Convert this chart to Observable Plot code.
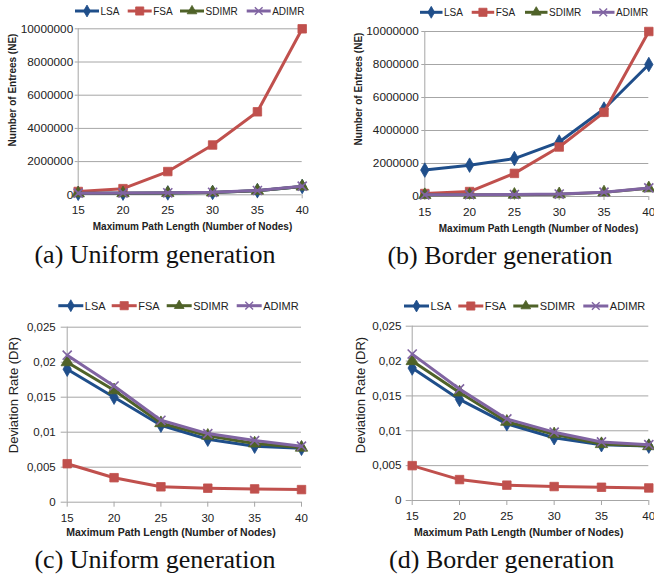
<!DOCTYPE html>
<html><head><meta charset="utf-8">
<script src="https://cdn.jsdelivr.net/npm/d3@7"></script>
<script src="https://cdn.jsdelivr.net/npm/@observablehq/plot@0.6"></script>
<style>
body{margin:0;background:#fff;}
#wrap{position:relative;width:654px;height:576px;overflow:hidden;background:#fff;font-family:"Liberation Sans",Arial,sans-serif;}
#wrap > svg{position:absolute;}
</style></head><body><div id="wrap"></div>
<script>
// ---------- data ----------
const xValues = [15, 20, 25, 30, 35, 40];
const seriesNames = ["LSA", "FSA", "SDIMR", "ADIMR"];
const seriesColors = ["#1F4E8A", "#C0504D", "#4F6228", "#8064A2"];
const seriesSymbols = ["diamond", "square", "triangle", "times"];

const neTicks = [0, 2000000, 4000000, 6000000, 8000000, 10000000];
const drTicks = [0, 0.005, 0.01, 0.015, 0.02, 0.025];

// (a) Uniform generation – Number of Entrees
const neUniformLSA   = [90000, 100000, 110000, 140000, 250000, 500000];
const neUniformFSA   = [200000, 370000, 1400000, 3000000, 5000000, 10000000];
const neUniformSDIMR = [90000, 100000, 110000, 140000, 250000, 500000];
const neUniformADIMR = [100000, 110000, 120000, 150000, 260000, 520000];

// (b) Border generation – Number of Entrees
const neBorderLSA   = [1600000, 1900000, 2300000, 3300000, 5300000, 8000000];
const neBorderFSA   = [180000, 300000, 1400000, 3000000, 5100000, 10000000];
const neBorderSDIMR = [90000, 100000, 110000, 140000, 250000, 500000];
const neBorderADIMR = [100000, 110000, 120000, 150000, 260000, 520000];

// (c) Uniform generation – Deviation Rate
const drUniformLSA   = [0.019, 0.015, 0.011, 0.009, 0.008, 0.0077];
const drUniformFSA   = [0.0055, 0.0035, 0.0022, 0.002, 0.0019, 0.0018];
const drUniformSDIMR = [0.02, 0.016, 0.0113, 0.0095, 0.0084, 0.0078];
const drUniformADIMR = [0.021, 0.0166, 0.0117, 0.0098, 0.0088, 0.008];

// (d) Border generation – Deviation Rate
const drBorderLSA   = [0.019, 0.0145, 0.011, 0.009, 0.008, 0.0078];
const drBorderFSA   = [0.005, 0.003, 0.0022, 0.002, 0.0019, 0.0018];
const drBorderSDIMR = [0.02, 0.0155, 0.0113, 0.0095, 0.0081, 0.0078];
const drBorderADIMR = [0.021, 0.016, 0.0117, 0.0098, 0.0084, 0.008];

const xTitle = "Maximum Path Length (Number of Nodes)";
const neTitle = "Number of Entrees (NE)";
const drTitle = "Deviation Rate (DR)";
const captions = ["(a) Uniform generation", "(b) Border generation", "(c) Uniform generation", "(d) Border generation"];

// ---------- layout ----------
const fmtNE = d => d3.format("d")(d);
const fmtDR = d => String(d).replace(".", ",");
const GRID = "#a6a6a6";

const panels = [
  {values:[neUniformLSA, neUniformFSA, neUniformSDIMR, neUniformADIMR], ticks:neTicks, domain:[0,10000000], fmt:fmtNE,
   left:0, top:20, width:327, height:200, x0:77.7, x1:301.7, yTop:28.3, yBot:194.3,
   yTS:3, yTP:2, xTS:4, xTP:7, fs:11.8,
   yTitle:{text:neTitle, x:12, y:90, size:10, weight:"bold"},
   xT:{x:192.5, y:230.3, size:10}, cap:{x:155, y:262.7},
   leg:{xs:[75, 127.7, 180, 246.7], len:24, y:11, size:10}},
  {values:[neBorderLSA, neBorderFSA, neBorderSDIMR, neBorderADIMR], ticks:neTicks, domain:[0,10000000], fmt:fmtNE,
   left:327, top:20, width:327, height:200, x0:424.3, x1:648.3, yTop:31, yBot:196,
   yTS:3, yTP:3, xTS:4, xTP:7, fs:11.8,
   yTitle:{text:neTitle, x:358, y:89, size:10, weight:"bold"},
   xT:{x:538.5, y:232, size:10}, cap:{x:500, y:264},
   leg:{xs:[420, 471.7, 525, 592], len:22.5, y:12.3, size:10}},
  {values:[drUniformLSA, drUniformFSA, drUniformSDIMR, drUniformADIMR], ticks:drTicks, domain:[0,0.025], fmt:fmtDR,
   left:0, top:316, width:327, height:210, x0:66.7, x1:301, yTop:326.7, yBot:501.7,
   yTS:6, yTP:5.5, xTS:5, xTP:6.2, fs:11.5,
   yTitle:{text:drTitle, x:13.3, y:395, size:13, weight:"normal"},
   xT:{x:171, y:535.5, size:10.5}, cap:{x:155, y:567.5},
   leg:{xs:[58.3, 111.7, 166.7, 236.7], len:25, y:305.7, size:11}},
  {values:[drBorderLSA, drBorderFSA, drBorderSDIMR, drBorderADIMR], ticks:drTicks, domain:[0,0.025], fmt:fmtDR,
   left:327, top:316, width:327, height:210, x0:411.7, x1:648.3, yTop:325.7, yBot:500,
   yTS:6, yTP:4.7, xTS:5, xTP:6.2, fs:11.7,
   yTitle:{text:drTitle, x:360, y:395, size:13, weight:"normal"},
   xT:{x:518.7, y:535.5, size:10.5}, cap:{x:501.7, y:567.7},
   leg:{xs:[404, 458.3, 513.3, 583.3], len:25, y:306, size:11}}
];

const wrap = document.getElementById("wrap");

function symR(sym){ return sym === "square" ? 4.8 : sym === "diamond" ? 4.4 : sym === "triangle" ? 4.6 : 4.2; }

panels.forEach(p => {
  const rows = [];
  seriesNames.forEach((s, i) => xValues.forEach((x, j) => rows.push({series: s, x, y: p.values[i][j]})));
  const marks = [
    Plot.gridY(p.ticks, {stroke: GRID, strokeOpacity: 1, strokeWidth: 1}),
    Plot.ruleX([15], {stroke: GRID, strokeWidth: 1}),
    Plot.axisY({ticks: p.ticks, tickFormat: p.fmt, tickSize: p.yTS, tickPadding: p.yTP, stroke: GRID, fill: "#222", fontSize: p.fs, label: null}),
    Plot.axisX({ticks: xValues, tickFormat: d => String(d), tickSize: p.xTS, tickPadding: p.xTP, stroke: GRID, fill: "#222", fontSize: p.fs, label: null})
  ];
  seriesNames.forEach((s, i) => {
    const d = rows.filter(r => r.series === s);
    const c = seriesColors[i], sym = seriesSymbols[i];
    marks.push(Plot.line(d, {x: "x", y: "y", stroke: c, strokeWidth: 3}));
    marks.push(Plot.dot(d, {x: "x", y: "y", symbol: sym, r: symR(sym),
      fill: sym === "times" ? "none" : c, stroke: c, strokeWidth: sym === "times" ? 1.6 : 0.8}));
  });
  const svg = Plot.plot({
    width: p.width, height: p.height,
    marginLeft: p.x0 - p.left, marginRight: p.left + p.width - p.x1,
    marginTop: p.yTop - p.top, marginBottom: p.top + p.height - p.yBot,
    x: {type: "linear", domain: [15, 40]},
    y: {type: "linear", domain: p.domain},
    style: {background: "transparent", overflow: "visible", fontFamily: "'Liberation Sans', Arial, sans-serif"},
    marks
  });
  svg.style.left = p.left + "px";
  svg.style.top = p.top + "px";
  wrap.appendChild(svg);
});

// ---------- text overlay: legends, axis titles, captions ----------
const ov = d3.select(wrap).append("svg").attr("width", 654).attr("height", 576)
  .style("left", "0px").style("top", "0px").style("pointer-events", "none")
  .style("font-family", "'Liberation Sans', Arial, sans-serif");

function markerPath(sym, r) {
  const typeMap = {diamond: d3.symbolDiamond, square: d3.symbolSquare, triangle: d3.symbolTriangle, times: d3.symbolTimes};
  return d3.symbol(typeMap[sym], Math.PI * r * r)();
}

panels.forEach(p => {
  // legend
  seriesNames.forEach((s, i) => {
    const c = seriesColors[i], sym = seriesSymbols[i];
    const cx = p.leg.xs[i];
    const g = ov.append("g");
    g.append("line").attr("x1", cx).attr("x2", cx + p.leg.len).attr("y1", p.leg.y).attr("y2", p.leg.y)
      .attr("stroke", c).attr("stroke-width", 3);
    g.append("path").attr("d", markerPath(sym, sym === "square" ? 4.6 : 3.6))
      .attr("transform", `translate(${cx + p.leg.len / 2},${p.leg.y})`)
      .attr("fill", sym === "times" ? "none" : c).attr("stroke", c).attr("stroke-width", sym === "times" ? 1.4 : 0.8);
    g.append("text").attr("x", cx + p.leg.len + 1.5).attr("y", p.leg.y)
      .attr("dominant-baseline", "central").attr("font-size", p.leg.size).attr("fill", "#222").text(s);
  });
  // y title
  ov.append("text").attr("transform", `translate(${p.yTitle.x},${p.yTitle.y}) rotate(-90)`)
    .attr("text-anchor", "middle").attr("dominant-baseline", "central")
    .attr("font-size", p.yTitle.size).attr("font-weight", p.yTitle.weight).attr("fill", "#222").text(p.yTitle.text);
  // x title
  ov.append("text").attr("x", p.xT.x).attr("y", p.xT.y).attr("text-anchor", "middle")
    .attr("font-size", p.xT.size).attr("font-weight", "bold").attr("fill", "#222").text(xTitle);
});
panels.forEach((p, i) => {
  ov.append("text").attr("x", p.cap.x).attr("y", p.cap.y).attr("text-anchor", "middle")
    .attr("font-family", "'Liberation Serif', 'Times New Roman', serif").attr("font-size", 26)
    .attr("fill", "#111").text(captions[i]);
});
</script></body></html>
